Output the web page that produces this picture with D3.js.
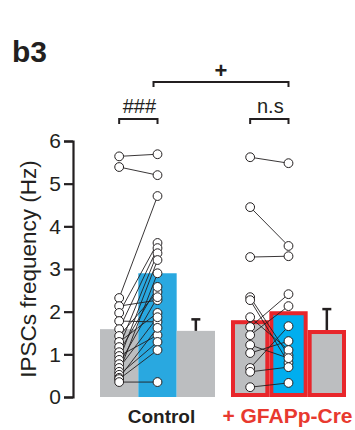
<!DOCTYPE html>
<html>
<head>
<meta charset="utf-8">
<script src="https://cdn.jsdelivr.net/npm/d3@7"></script>
<style>
  html, body { margin: 0; padding: 0; background: #fff; }
  svg { display: block; font-family: "Liberation Sans", Arial, sans-serif; }
</style>
</head>
<body>
<svg id="chart" width="355" height="430"></svg>
<script>
// Groups and the three conditions shown in each group
const groups = ["Control", "+ GFAPp-Cre"];
const conditions = ["baseline", "drug", "washout"];
const yTicks = [0, 1, 2, 3, 4, 5, 6];

// Mean IPSC frequency (Hz) per condition, and SEM of the washout bar
const controlMeans = [1.59, 2.90, 1.55];
const creMeans = [1.80, 2.01, 1.57];
const controlWashSem = 0.27;
const creWashSem = 0.49;

// Paired cells: baseline -> drug (Hz)
const controlBaseline = [5.64, 5.39, 2.32, 2.13, 1.97, 1.78, 1.59, 1.43, 1.29, 1.17,
                         1.05, 0.96, 0.87, 0.77, 0.68, 0.59, 0.52, 0.45, 0.42, 0.35];
const controlDrug     = [5.69, 5.20, 4.71, 2.27, 3.61, 1.76, 3.49, 2.46, 1.97, 3.37,
                         2.58, 1.45, 3.21, 2.34, 1.87, 2.90, 1.29, 1.62, 1.10, 0.35];
const creBaseline = [5.62, 4.45, 3.28, 2.34, 2.27, 1.87, 1.64, 1.45, 1.22, 1.03, 0.68, 0.59, 0.23];
const creDrug     = [5.48, 3.54, 3.30, 0.98, 0.80, 1.10, 2.41, 2.13, 0.91, 1.31, 1.66, 0.70, 0.33];

// Significance annotations
const withinLabels = ["###", "n.s"];
const betweenLabel = "+";

const svg = d3.select("#chart");

const y = d3.scaleLinear().domain([0, 6]).range([397, 141]);
const xGroup = d3.scaleBand().domain(groups).range([100, 346])
  .paddingInner(0.122).paddingOuter(0);
const xCond = d3.scaleBand().domain(conditions).range([0, xGroup.bandwidth()]).padding(0);

const barColors = { baseline: "#bcbec0", drug: "#29a8e0", washout: "#bcbec0" };
const creBlue = "#00aeef";
const red = "#e8262b";
const ink = "#231f20";

const groupData = [
  { name: groups[0], means: controlMeans, sem: controlWashSem, pre: controlBaseline, post: controlDrug, outlined: false },
  { name: groups[1], means: creMeans, sem: creWashSem, pre: creBaseline, post: creDrug, outlined: true }
];

// Panel label
svg.append("text").attr("x", 12).attr("y", 62)
  .attr("font-size", 30).attr("font-weight", "bold").attr("fill", ink).text("b3");

// Y axis
const yAxis = svg.append("g").attr("transform", "translate(73,0)")
  .call(d3.axisLeft(y).tickValues(yTicks).tickFormat(d3.format("d")).tickSize(9).tickPadding(3));
yAxis.select(".domain").attr("stroke", ink).attr("stroke-width", 2.2);
yAxis.selectAll(".tick line").attr("stroke", ink).attr("stroke-width", 2.2);
yAxis.selectAll(".tick text").attr("font-size", 21).attr("fill", ink)
  .attr("font-family", "Liberation Sans, Arial, sans-serif");

svg.append("text")
  .attr("transform", `translate(36,${(y(0) + y(6)) / 2}) rotate(-90)`)
  .attr("text-anchor", "middle").attr("font-size", 22.5).attr("fill", ink)
  .text("IPSCs frequency (Hz)");

groupData.forEach(g => {
  const gx = xGroup(g.name);
  const layer = svg.append("g").attr("transform", `translate(${gx},0)`);
  const sw = g.outlined ? 4 : 0;

  // Bars
  layer.selectAll("rect.bar").data(conditions.map((c, i) => ({ c, v: g.means[i] })))
    .join("rect").attr("class", "bar")
    .attr("x", d => xCond(d.c) + sw / 2)
    .attr("y", d => y(d.v) + sw / 2)
    .attr("width", xCond.bandwidth() - sw)
    .attr("height", d => y(0) - y(d.v) - sw)
    .attr("fill", d => (g.outlined && d.c === "drug") ? creBlue : barColors[d.c])
    .attr("stroke", g.outlined ? red : "none")
    .attr("stroke-width", sw);

  // Washout SEM (upper only)
  const ex = xCond("washout") + xCond.bandwidth() / 2;
  const top = y(g.means[2] + g.sem);
  const base = y(g.means[2]);
  layer.append("line").attr("x1", ex).attr("x2", ex).attr("y1", base).attr("y2", top)
    .attr("stroke", ink).attr("stroke-width", 2.5);
  layer.append("line").attr("x1", ex - 4.5).attr("x2", ex + 4.5).attr("y1", top).attr("y2", top)
    .attr("stroke", ink).attr("stroke-width", 2.5);

  // Paired lines
  const xPre = xCond("baseline") + xCond.bandwidth() / 2;
  const xPost = xCond("drug") + xCond.bandwidth() / 2;
  const pairs = g.pre.map((p, i) => ({ pre: p, post: g.post[i] }));
  layer.selectAll("line.pair").data(pairs).join("line").attr("class", "pair")
    .attr("x1", xPre).attr("x2", xPost)
    .attr("y1", d => y(d.pre)).attr("y2", d => y(d.post))
    .attr("stroke", ink).attr("stroke-width", 0.9);

  const pts = pairs.flatMap(d => [{ x: xPre, v: d.pre }, { x: xPost, v: d.post }]);
  layer.selectAll("circle.cell").data(pts).join("circle").attr("class", "cell")
    .attr("cx", d => d.x).attr("cy", d => y(d.v)).attr("r", 4.4)
    .attr("fill", "#fff").attr("stroke", ink).attr("stroke-width", 1);
});

// Group labels
const labelCenters = [161.5, 287.5];
svg.selectAll("text.group").data(groups).join("text").attr("class", "group")
  .attr("x", (d, i) => labelCenters[i])
  .attr("y", 423).attr("text-anchor", "middle")
  .attr("font-size", (d, i) => i === 0 ? 19 : 21).attr("font-weight", "bold")
  .attr("fill", (d, i) => i === 0 ? ink : "#e8392f")
  .text(d => d);

// Significance brackets
function bracket(x1, x2, yy, drop) {
  svg.append("path")
    .attr("d", `M${x1},${yy + drop}V${yy}H${x2}V${yy + drop}`)
    .attr("fill", "none").attr("stroke", ink).attr("stroke-width", 2);
}
groupData.forEach((g, i) => {
  const gx = xGroup(g.name);
  const xPre = gx + xCond("baseline") + xCond.bandwidth() / 2;
  const xPost = gx + xCond("drug") + xCond.bandwidth() / 2;
  bracket(xPre, xPost, 119, 5);
  svg.append("text").attr("x", (xPre + xPost) / 2 + 1).attr("y", 113)
    .attr("text-anchor", "middle").attr("font-size", 20).attr("fill", ink)
    .text(withinLabels[i]);
});
{
  const a = xGroup(groups[0]) + xCond("drug") + xCond.bandwidth() / 2 - 4;
  const b = xGroup(groups[1]) + xCond("drug") + xCond.bandwidth() / 2;
  bracket(a, b, 82, 5);
  svg.append("text").attr("x", (a + b) / 2).attr("y", 78)
    .attr("text-anchor", "middle").attr("font-size", 22).attr("font-weight", "bold").attr("fill", ink)
    .text(betweenLabel);
}
</script>
</body>
</html>
